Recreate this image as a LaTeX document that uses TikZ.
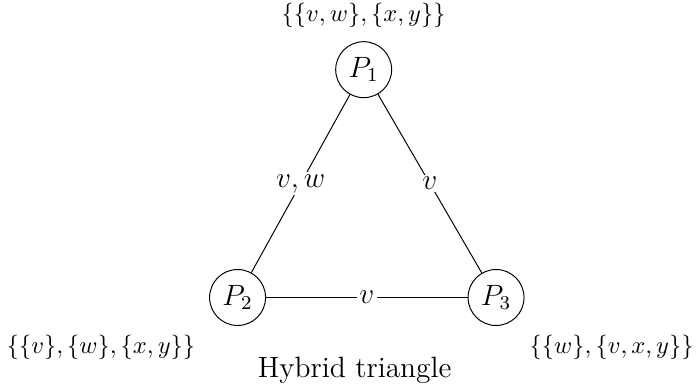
\documentclass[tikz,border=0pt]{standalone}
\usepackage{amsmath, amssymb}
\usepackage{tikz}

\begin{document}
\begin{tikzpicture}
  \tikzset{party/.style={draw, circle, inner sep=2.5pt, font=\large},
    channel/.style={fill=white, inner sep=1pt, font=\large}}
  \useasboundingbox (0,0) rectangle (9.99,5.62);

  % Parties
  \node[party] (P1) at (5.22,4.62) {$P_1$};
  \node[party] (P2) at (3.41,1.35) {$P_2$};
  \node[party] (P3) at (7.12,1.35) {$P_3$};

  % Sets held by each party
  \node (S1) at (5.22,5.40) {$\{\{v,w\},\{x,y\}\}$};
  \node (S2) at (1.45,0.64) {$\{\{v\},\{w\},\{x,y\}\}$};
  \node (S3) at (8.78,0.64) {$\{\{w\},\{v,x,y\}\}$};

  % Channels
  \draw (P1) -- node[channel] {$v,w$} (P2);
  \draw (P1) -- node[channel] {$v$} (P3);
  \draw (P2) -- node[channel] {$v$} (P3);

  % Caption
  \node[font=\large] (cap) at (5.09,0.31) {Hybrid triangle};
\end{tikzpicture}
\end{document}
